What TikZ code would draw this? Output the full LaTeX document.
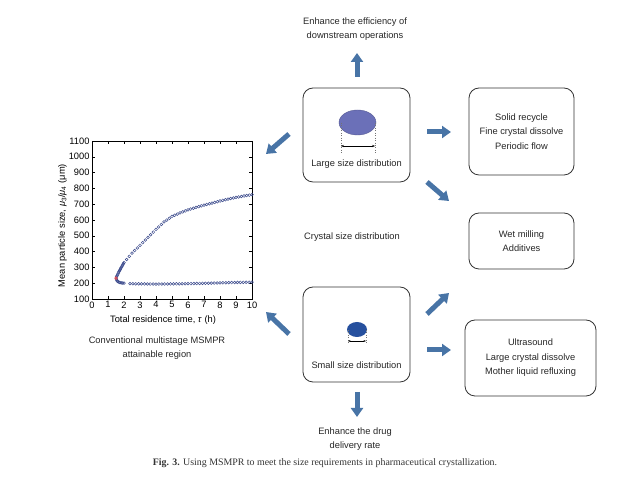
\documentclass[tikz,border=0pt]{standalone}
\usepackage{fontspec}
\setmainfont{Liberation Sans}
\newfontfamily\capfont{Liberation Serif}
\usepackage{xcolor}
\definecolor{ArrowBlue}{HTML}{4874A6}
\definecolor{BigDot}{HTML}{6B70B8}
\definecolor{SmallDot}{HTML}{26509E}
\definecolor{MarkBlue}{HTML}{3B4A8C}
\definecolor{BoxGray}{HTML}{333333}
\usepackage{tikz}
\usetikzlibrary{calc, arrows.meta, positioning}

\tikzset{
  fat/.style={ArrowBlue, line width=5pt, -{Triangle[length=9pt,width=12pt]}},
  panel/.style={draw=BoxGray, line width=0.8pt, rounded corners=10pt},
  txt/.style={font=\fontsize{9.3}{14.5}\selectfont, align=center, text=black!85},
  ring/.style={draw=MarkBlue, line width=0.5pt},
  guide/.style={black!55, dotted, line width=0.45pt},
}

\begin{document}
\begin{tikzpicture}[x=1pt, y=1pt]
  \useasboundingbox (0,0) rectangle (640,484);

  % centre column
  \node[txt] (upgoal) at (355,455) {Enhance the efficiency of\\downstream operations};
  \node[panel, minimum width=107pt, minimum height=94pt] (large) at (356.5,349) {};
  \node[panel, minimum width=107pt, minimum height=95pt] (small) at (356.5,149.5) {};
  \node[txt] (csd) at (352,247) {Crystal size distribution};
  \node[txt] (downgoal) at (355,45) {Enhance the drug\\delivery rate};

  \fill[BigDot, draw=BigDot!80!black, line width=0.4pt] (357.5,361.5) ellipse (18.5pt and 12.5pt);
  \draw[guide] (341,361) -- (341,331) (375,361) -- (375,331);
  \draw[{Stealth[length=3pt]}-{Stealth[length=3pt]}, line width=0.5pt] (341,338) -- (375,338);
  \node[txt] (largelab) at (356.5,320) {Large size distribution};

  \fill[SmallDot] (357,154.5) ellipse (10pt and 7.5pt);
  \draw[guide] (348,154) -- (348,141) (366,154) -- (366,141);
  \draw[{Stealth[length=2.5pt]}-{Stealth[length=2.5pt]}, line width=0.5pt] (348,143) -- (366,143);
  \node[txt] (smalllab) at (356.5,119) {Small size distribution};

  % right column
  \node[panel, txt, minimum width=105pt, minimum height=87pt] (recycle) at (521.5,352.5)
    {Solid recycle\\Fine crystal dissolve\\Periodic flow};
  \node[panel, txt, minimum width=105pt, minimum height=56pt] (milling) at (521.5,243)
    {Wet milling\\Additives};
  \node[panel, txt, minimum width=131pt, minimum height=76pt] (ultra) at (530.5,126)
    {Ultrasound\\Large crystal dissolve\\Mother liquid refluxing};

  % block arrows
  \draw[fat] (357,407) -- (357,431);
  \draw[fat] (357,92) -- (357,67);
  \draw[fat] (427,352) -- (451,352);
  \draw[fat] (427,302) -- (449,283);
  \draw[fat] (427,170) -- (449,191);
  \draw[fat] (427,134) -- (451,134);
  \draw[fat] (289,350) -- (266,330);
  \draw[fat] (289,150) -- (266,172);

  % attainable region plot
  \begin{scope}[shift={(92pt,169.2pt)}, x=16pt, y=0.158pt, font=\fontsize{9.3}{11}\selectfont]
    \draw[line width=0.6pt] (0,100) rectangle (10,1100);
    \foreach \t in {0,...,10} {
      \draw[line width=0.4pt] (\t,100) -- ++(0,3pt) (\t,1100) -- ++(0,-3pt);
      \node[below=-1pt] (xt\t) at (\t,100) {\t};
    }
    \foreach \v in {100,200,...,1100} {
      \draw[line width=0.4pt] (0,\v) -- ++(3pt,0) (10,\v) -- ++(-3pt,0);
      \node[left=-1pt] (yt\v) at (0,\v) {\v};
    }
    \node[rotate=90] (ylab) at (-1.85,565)
      {Mean particle size, \textit{μ}\textsubscript{3}/\textit{μ}\textsubscript{4} (μm)};
  \end{scope}
  \node (xlab) at (163,164) {\fontsize{9.3}{11}\selectfont Total residence time, \textit{τ} (h)};
  % circles along both branches
  \foreach \ax/\ay/\bx/\by/\n in {116/205.9/118.4/211.1/4, 118.4/211.1/120.8/215.8/4,
      120.8/215.8/124/221.3/5, 124/221.3/132/230.8/3, 132/230.8/140/238.7/3,
      140/238.7/148/246.6/3, 148/246.6/156/254.5/3, 156/254.5/164/262.1/3,
      164/262.1/172/267.5/3, 172/267.5/180/271.1/3, 180/271.1/188/274.1/3,
      188/274.1/196/276.6/3, 196/276.6/204/278.9/3, 204/278.9/212/280.9/3,
      212/280.9/220/283.0/3, 220/283.0/228/284.9/3, 228/284.9/236/286.6/3,
      236/286.6/244/288.0/3, 244/288.0/252/289.3/3,
      116/205.9/117.3/202.7/3, 117.3/202.7/120/201.3/3, 120/201.3/124/200.8/3,
      130/200.3/156/199.9/9, 156/199.9/188/200.3/11, 188/200.3/220/201.1/11,
      220/201.1/252/201.9/11}
    \foreach \k in {1,...,\n}
      \draw[ring] ($(\ax,\ay)!\k/\n!(\bx,\by)$) circle (1.4pt);
  \draw[ring] (130,200.3) circle (1.4pt);
  \draw[red!80, line width=0.5pt] (116,205.9) circle (1.4pt);
  \node[txt] (region) at (157,136) {Conventional multistage MSMPR\\attainable region};

  \node[font=\capfont\fontsize{9.9}{11}\selectfont, text=black!80] (caption) at (325,21)
    {\textbf{Fig. 3.} Using MSMPR to meet the size requirements in pharmaceutical crystallization.};
\end{tikzpicture}
\end{document}
